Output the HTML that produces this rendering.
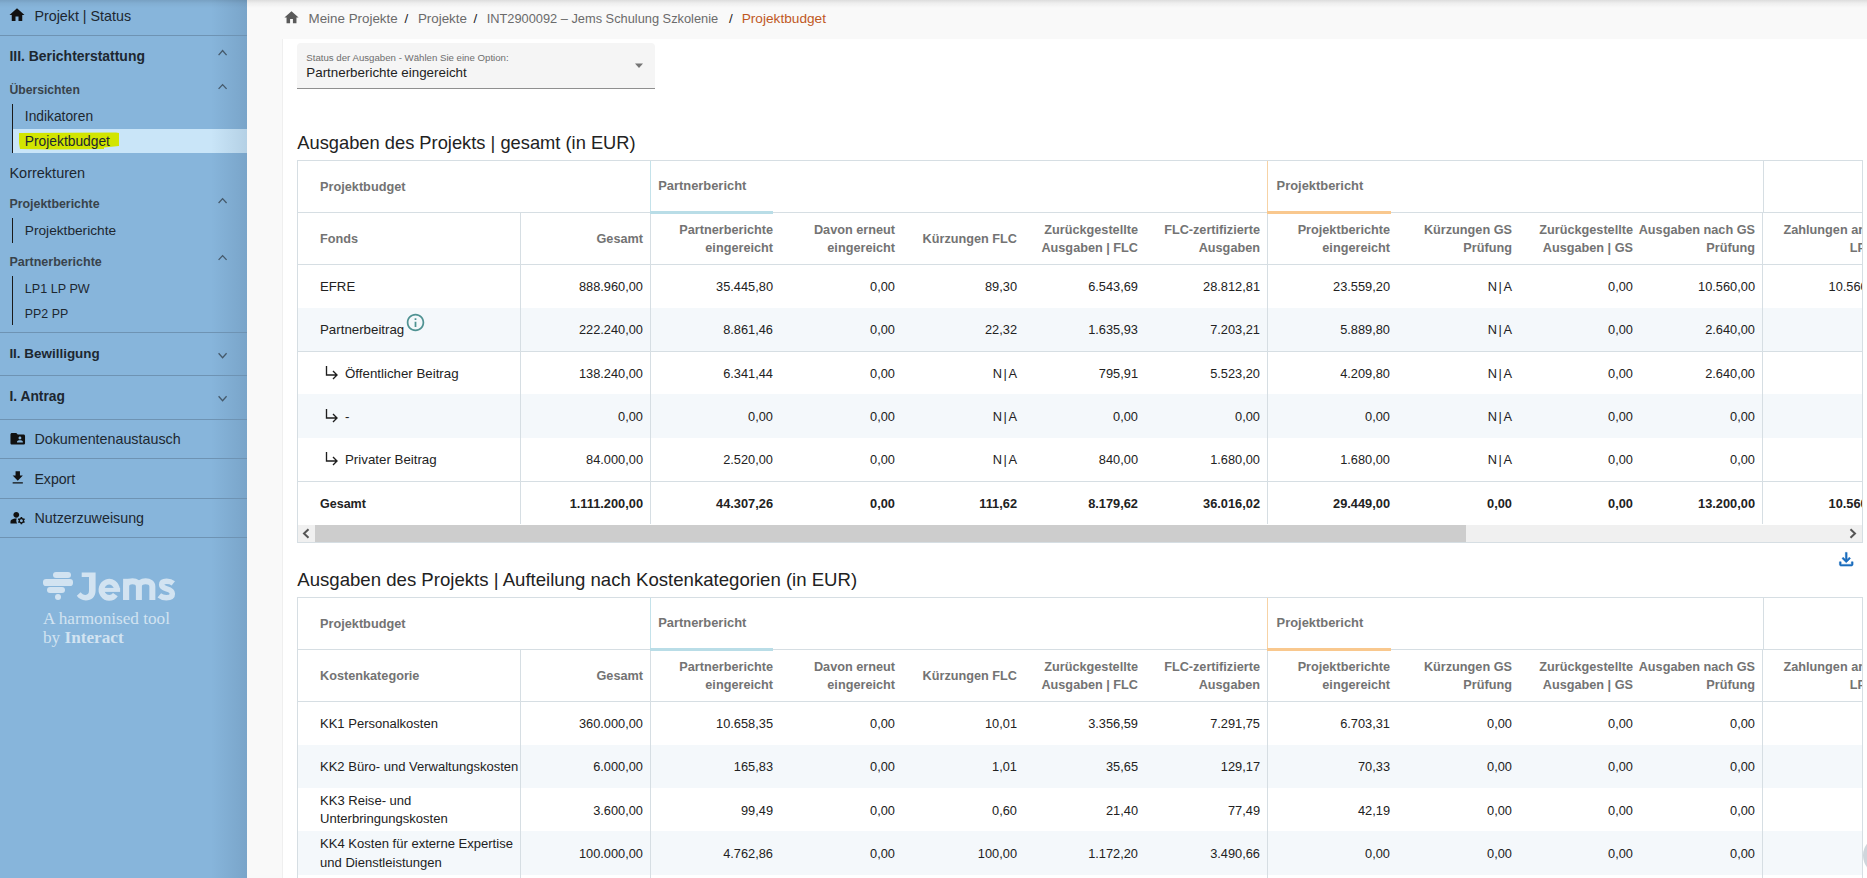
<!DOCTYPE html>
<html><head><meta charset="utf-8"><title>Projektbudget</title>
<style>
html,body{margin:0;padding:0;width:1867px;height:878px;overflow:hidden;background:#f9f9f9}
body{position:relative;font-family:"Liberation Sans", sans-serif}
.t{position:absolute;white-space:nowrap}
.r{position:absolute;box-sizing:border-box}
</style></head><body>
<div class="r" style="left:0px;top:0px;width:247px;height:878px;background:#87b5db;"></div>
<div class="r" style="left:211px;top:0px;width:36px;height:878px;background:linear-gradient(to right, rgba(60,90,120,0) 0%, rgba(60,90,120,0.18) 100%);"></div>
<svg class="r" style="left:8px;top:6px;width:18px;height:18px" viewBox="0 0 24 24"><path fill="#111" d="M10 20v-6h4v6h5v-8h3L12 3 2 12h3v8z"/></svg>
<div class="t" style="left:34.40px;top:7.50px;font-size:14.3px;line-height:17px;color:#1d2730;font-weight:400;">Projekt | Status</div>
<div class="r" style="left:0px;top:35px;width:247px;height:1px;background:#6e93b3;"></div>
<div class="t" style="left:9.40px;top:47.50px;font-size:13.95px;line-height:17px;color:#1d2730;font-weight:700;">III. Berichterstattung</div>
<svg class="r" style="left:217.6px;top:49.5px;width:9.2px;height:5.5px;overflow:visible" viewBox="0 0 9.2 5.50"><path fill="none" stroke="#45596a" stroke-width="1.3" d="M0.6 5.20 L4.60 0.6 L8.60 5.20"/></svg>
<div class="t" style="left:9.40px;top:82.50px;font-size:12.2px;line-height:15px;color:#39434b;font-weight:700;">Übersichten</div>
<svg class="r" style="left:217.6px;top:84px;width:9.2px;height:5.200000000000003px;overflow:visible" viewBox="0 0 9.2 5.20"><path fill="none" stroke="#45596a" stroke-width="1.3" d="M0.6 4.90 L4.60 0.6 L8.60 4.90"/></svg>
<div class="r" style="left:12px;top:104px;width:1px;height:49px;background:#1a1a1a;"></div>
<div class="t" style="left:24.80px;top:108.00px;font-size:13.8px;line-height:17px;color:#1d2730;font-weight:400;">Indikatoren</div>
<div class="r" style="left:13px;top:129px;width:234px;height:24px;background:#c9e5f8;"></div>
<div class="r" style="left:211px;top:129px;width:36px;height:24px;background:linear-gradient(to right, rgba(60,90,120,0) 0%, rgba(60,90,120,0.15) 100%);"></div>
<svg class="r" style="left:16px;top:129px;width:106px;height:23px" viewBox="0 0 106 23"><path fill="#d2e500" d="M3 4 L100 3.5 L103 4 L103 17 L88 18.5 L88 20 L36 20.5 L4 20 L3 14 Z"/></svg>
<div class="t" style="left:24.80px;top:133.00px;font-size:13.8px;line-height:17px;color:#1d2730;font-weight:400;">Projektbudget</div>
<div class="t" style="left:9.40px;top:164.50px;font-size:14.5px;line-height:17px;color:#1d2730;font-weight:400;">Korrekturen</div>
<div class="t" style="left:9.40px;top:196.50px;font-size:12.4px;line-height:15px;color:#39434b;font-weight:700;">Projektberichte</div>
<svg class="r" style="left:217.6px;top:197.9px;width:9.2px;height:5.299999999999983px;overflow:visible" viewBox="0 0 9.2 5.30"><path fill="none" stroke="#45596a" stroke-width="1.3" d="M0.6 5.00 L4.60 0.6 L8.60 5.00"/></svg>
<div class="r" style="left:12px;top:218px;width:1px;height:25px;background:#1a1a1a;"></div>
<div class="t" style="left:24.80px;top:222.50px;font-size:13.7px;line-height:16px;color:#1d2730;font-weight:400;">Projektberichte</div>
<div class="t" style="left:9.40px;top:254.50px;font-size:12.5px;line-height:15px;color:#39434b;font-weight:700;">Partnerberichte</div>
<svg class="r" style="left:217.6px;top:254.8px;width:9.2px;height:5.199999999999989px;overflow:visible" viewBox="0 0 9.2 5.20"><path fill="none" stroke="#45596a" stroke-width="1.3" d="M0.6 4.90 L4.60 0.6 L8.60 4.90"/></svg>
<div class="r" style="left:12px;top:276px;width:1px;height:49px;background:#1a1a1a;"></div>
<div class="t" style="left:24.80px;top:281.50px;font-size:12.6px;line-height:15px;color:#1d2730;font-weight:400;">LP1 LP PW</div>
<div class="t" style="left:24.80px;top:306.50px;font-size:12.4px;line-height:15px;color:#1d2730;font-weight:400;">PP2 PP</div>
<div class="r" style="left:0px;top:332px;width:247px;height:1px;background:#6e93b3;"></div>
<div class="t" style="left:9.40px;top:345.50px;font-size:13.45px;line-height:16px;color:#1d2730;font-weight:700;">II. Bewilligung</div>
<svg class="r" style="left:217.6px;top:353.3px;width:9.2px;height:5.300000000000011px;overflow:visible" viewBox="0 0 9.2 5.30"><path fill="none" stroke="#45596a" stroke-width="1.3" d="M0.6 0.3 L4.60 4.70 L8.60 0.3"/></svg>
<div class="r" style="left:0px;top:375px;width:247px;height:1px;background:#6e93b3;"></div>
<div class="t" style="left:9.40px;top:387.50px;font-size:13.84px;line-height:17px;color:#1d2730;font-weight:700;">I. Antrag</div>
<svg class="r" style="left:217.6px;top:396.1px;width:9.2px;height:5.2999999999999545px;overflow:visible" viewBox="0 0 9.2 5.30"><path fill="none" stroke="#45596a" stroke-width="1.3" d="M0.6 0.3 L4.60 4.70 L8.60 0.3"/></svg>
<div class="r" style="left:0px;top:419px;width:247px;height:1px;background:#6e93b3;"></div>
<svg class="r" style="left:8.5px;top:430px;width:17.5px;height:17.5px" viewBox="0 0 24 24"><path fill="#111" d="M20 6h-8l-2-2H4c-1.1 0-1.99.9-1.99 2L2 18c0 1.1.9 2 2 2h16c1.1 0 2-.9 2-2V8c0-1.1-.9-2-2-2zm-5 3c1.1 0 2 .9 2 2s-.9 2-2 2-2-.9-2-2 .9-2 2-2zm4 8h-8v-1c0-1.33 2.67-2 4-2s4 .67 4 2v1z"/></svg>
<div class="t" style="left:34.40px;top:430.50px;font-size:14.3px;line-height:17px;color:#1d2730;font-weight:400;">Dokumentenaustausch</div>
<div class="r" style="left:0px;top:458px;width:247px;height:1px;background:#6e93b3;"></div>
<svg class="r" style="left:8.5px;top:469px;width:17.5px;height:17.5px" viewBox="0 0 24 24"><path fill="#111" d="M19 9h-4V3H9v6H5l7 7 7-7zM5 18v2h14v-2H5z"/></svg>
<div class="t" style="left:34.40px;top:470.50px;font-size:14.15px;line-height:17px;color:#1d2730;font-weight:400;">Export</div>
<div class="r" style="left:0px;top:498px;width:247px;height:1px;background:#6e93b3;"></div>
<svg class="r" style="left:8.5px;top:509px;width:17.5px;height:17.5px" viewBox="0 0 24 24"><path fill="#111" d="M10.67 13.02c-.22-.01-.44-.02-.67-.02-2.42 0-4.68.67-6.61 1.82-.88.52-1.39 1.5-1.39 2.53V20h9.26c-.79-1.13-1.26-2.51-1.26-4 0-1.07.25-2.07.67-2.98zM10 12c2.21 0 4-1.79 4-4s-1.79-4-4-4-4 1.79-4 4 1.79 4 4 4zm10.75 4c0-.22-.03-.42-.06-.63l1.14-1.01-1-1.73-1.45.49c-.32-.27-.68-.48-1.08-.63L18 11h-2l-.3 1.49c-.4.15-.76.36-1.08.63l-1.45-.49-1 1.73 1.14 1.01c-.03.21-.06.41-.06.63s.03.42.06.63l-1.14 1.01 1 1.73 1.45-.49c.32.27.68.48 1.08.63L16 21h2l.3-1.49c.4-.15.76-.36 1.08-.63l1.45.49 1-1.73-1.14-1.01c.03-.21.06-.41.06-.63zM17 18c-1.1 0-2-.9-2-2s.9-2 2-2 2 .9 2 2-.9 2-2 2z"/></svg>
<div class="t" style="left:34.40px;top:509.50px;font-size:14.3px;line-height:17px;color:#1d2730;font-weight:400;">Nutzerzuweisung</div>
<div class="r" style="left:0px;top:537px;width:247px;height:1px;background:#6e93b3;"></div>
<div class="r" style="left:52.8px;top:572px;width:18.2px;height:5.7px;background:#d2e3f1;border-radius:3px"></div>
<div class="r" style="left:42.5px;top:579.4px;width:30.8px;height:6.2px;background:#d2e3f1;border-radius:3.1px"></div>
<div class="r" style="left:46.9px;top:587px;width:18.6px;height:6px;background:#d2e3f1;border-radius:3px"></div>
<div class="r" style="left:54.8px;top:594px;width:6.5px;height:6.4px;background:#d2e3f1;border-radius:50%"></div>
<svg class="r" style="left:74px;top:568px;width:106px;height:36px" viewBox="0 0 106 36"><path fill="#d2e3f1" d="M7.7 4.5 L21.6 4.5 L21.6 22.5 C21.6 29 17.5 32.4 11.8 32.4 C7.8 32.4 4.8 30.6 2.8 27.8 L6.6 24.3 C7.8 25.9 9.5 26.9 11.5 26.9 C13.8 26.9 15 25.4 15 22.5 L15 9.1 L7.7 9.1 Z"/><path fill="none" stroke="#d2e3f1" stroke-width="5.8" d="M42.9 21.45 A7.7 8.1 0 1 0 41.4 26.6"/><rect fill="#d2e3f1" x="28" y="19.9" width="18.1" height="4"/><rect fill="#d2e3f1" x="49.1" y="10.8" width="6" height="21.2"/><path fill="none" stroke="#d2e3f1" stroke-width="6" d="M52.1 32 V18.5 C52.1 15.2 54.6 13.3 58.5 13.3 C62.4 13.3 64.9 15.2 64.9 18.5 V32 M64.9 18.5 C64.9 15.2 67.6 13.3 71.6 13.3 C75.6 13.3 78.35 15.2 78.35 18.5 V32"/><path fill="none" stroke="#d2e3f1" stroke-width="5.5" d="M99.3 15.3 C97.5 13.9 95 13.25 92.6 13.25 C89.3 13.25 87.65 14.7 87.65 16.8 C87.65 22.3 98.35 19.2 98.35 25.7 C98.35 28.3 95.9 29.65 92.3 29.65 C89.5 29.65 87 28.7 85.3 27.3"/></svg>
<div class="t" style="left:43.00px;top:607.50px;font-size:17.2px;line-height:21px;color:#d2e3f1;font-weight:400;font-family:'Liberation Serif', serif;">A harmonised tool</div>
<div class="t" style="left:43.00px;top:626.50px;font-size:17.2px;line-height:21px;color:#d2e3f1;font-weight:400;font-family:'Liberation Serif', serif;">by <b>Interact</b></div>
<div class="r" style="left:247px;top:0px;width:1620px;height:878px;background:#f9f9f9;"></div>
<div class="r" style="left:282px;top:39px;width:1585px;height:839px;background:#fff;border-left:1px solid #efefef"></div>
<div class="r" style="left:0px;top:0px;width:1867px;height:8px;background:linear-gradient(to bottom, rgba(0,0,0,0.115) 0%, rgba(0,0,0,0.045) 40%, rgba(0,0,0,0) 100%);"></div>
<svg class="r" style="left:282.5px;top:9px;width:17px;height:17px" viewBox="0 0 24 24"><path fill="#5a5a5a" d="M10 20v-6h4v6h5v-8h3L12 3 2 12h3v8z"/></svg>
<div class="t" style="left:308.50px;top:10.50px;font-size:13.39px;line-height:16px;color:#6b6b6b;font-weight:400;">Meine Projekte</div>
<div class="t" style="left:404.50px;top:10.50px;font-size:13.4px;line-height:16px;color:#222;font-weight:400;">/</div>
<div class="t" style="left:417.90px;top:10.50px;font-size:13.38px;line-height:16px;color:#6b6b6b;font-weight:400;">Projekte</div>
<div class="t" style="left:473.50px;top:10.50px;font-size:13.4px;line-height:16px;color:#222;font-weight:400;">/</div>
<div class="t" style="left:486.70px;top:11.00px;font-size:12.82px;line-height:15px;color:#6b6b6b;font-weight:400;">INT2900092 – Jems Schulung Szkolenie</div>
<div class="t" style="left:729.00px;top:10.50px;font-size:13.4px;line-height:16px;color:#222;font-weight:400;">/</div>
<div class="t" style="left:741.70px;top:10.50px;font-size:13.66px;line-height:16px;color:#c0581e;font-weight:400;">Projektbudget</div>
<div class="r" style="left:297px;top:43px;width:358px;height:45px;background:#f5f5f5;border-radius:4px 4px 0 0"></div>
<div class="r" style="left:297px;top:88px;width:358px;height:1px;background:#8f8f8f;"></div>
<div class="t" style="left:306.30px;top:51.50px;font-size:9.66px;line-height:12px;color:#6e6e6e;font-weight:400;">Status der Ausgaben - Wählen Sie eine Option:</div>
<div class="t" style="left:306.30px;top:64.50px;font-size:13.36px;line-height:16px;color:#222;font-weight:400;">Partnerberichte eingereicht</div>
<svg class="r" style="left:634px;top:62px;width:10px;height:7px" viewBox="0 0 10 7"><path fill="#757575" d="M1 1.5h8L5 6z"/></svg>
<div class="t" style="left:297.30px;top:131.50px;font-size:18.31px;line-height:22px;color:#222;font-weight:400;">Ausgaben des Projekts | gesamt (in EUR)</div>
<div class="r" style="left:0;top:0;width:1862px;height:878px;overflow:hidden">
<div class="r" style="left:297px;top:160px;width:1566px;height:1px;background:#d6dee3;"></div>
<div class="r" style="left:297px;top:212px;width:1566px;height:1px;background:#d6dee3;"></div>
<div class="r" style="left:297px;top:264px;width:1566px;height:1px;background:#d6dee3;"></div>
<div class="r" style="left:298px;top:308px;width:1565px;height:43px;background:#f4f8fb;"></div>
<div class="r" style="left:297px;top:351px;width:1566px;height:1px;background:#d6dee3;"></div>
<div class="r" style="left:298px;top:394px;width:1565px;height:44px;background:#f4f8fb;"></div>
<div class="r" style="left:297px;top:481px;width:1566px;height:1px;background:#d6dee3;"></div>
<div class="r" style="left:297px;top:160px;width:1px;height:382.48px;background:#d6dee3;"></div>
<div class="r" style="left:520px;top:213px;width:1px;height:311.48px;background:#d6dee3;"></div>
<div class="r" style="left:650px;top:161px;width:1px;height:51px;background:#c4e2ea;"></div>
<div class="r" style="left:650px;top:213px;width:1px;height:311.48px;background:#d6dee3;"></div>
<div class="r" style="left:1267px;top:161px;width:1px;height:51px;background:#f7d3a6;"></div>
<div class="r" style="left:1267px;top:213px;width:1px;height:311.48px;background:#d6dee3;"></div>
<div class="r" style="left:1763px;top:161px;width:1px;height:51px;background:#d6dee3;"></div>
<div class="r" style="left:1762px;top:213px;width:1px;height:311.48px;background:#d6dee3;"></div>
<div class="r" style="left:650px;top:211px;width:123px;height:2.5px;background:#b9dde7;"></div>
<div class="r" style="left:1267px;top:211px;width:124px;height:2.5px;background:#f9c88e;"></div>
<div class="t" style="left:320.00px;top:179.00px;font-size:12.72px;line-height:15px;color:#737373;font-weight:700;">Projektbudget</div>
<div class="t" style="left:658.20px;top:178.00px;font-size:12.9px;line-height:15px;color:#737373;font-weight:700;">Partnerbericht</div>
<div class="t" style="left:1276.60px;top:178.00px;font-size:12.9px;line-height:15px;color:#737373;font-weight:700;">Projektbericht</div>
<div class="t" style="left:320.00px;top:231.50px;font-size:12.7px;line-height:15px;color:#737373;font-weight:700;">Fonds</div>
<div class="t" style="right:1219.00px;text-align:right;top:231.50px;font-size:12.7px;line-height:15px;color:#737373;font-weight:700;">Gesamt</div>
<div class="t" style="right:1089.00px;text-align:right;top:222.50px;font-size:12.7px;line-height:15px;color:#737373;font-weight:700;">Partnerberichte</div>
<div class="t" style="right:1089.00px;text-align:right;top:240.50px;font-size:12.7px;line-height:15px;color:#737373;font-weight:700;">eingereicht</div>
<div class="t" style="right:967.00px;text-align:right;top:222.50px;font-size:12.7px;line-height:15px;color:#737373;font-weight:700;">Davon erneut</div>
<div class="t" style="right:967.00px;text-align:right;top:240.50px;font-size:12.7px;line-height:15px;color:#737373;font-weight:700;">eingereicht</div>
<div class="t" style="right:724.00px;text-align:right;top:222.50px;font-size:12.7px;line-height:15px;color:#737373;font-weight:700;">Zurückgestellte</div>
<div class="t" style="right:724.00px;text-align:right;top:240.50px;font-size:12.7px;line-height:15px;color:#737373;font-weight:700;">Ausgaben | FLC</div>
<div class="t" style="right:602.00px;text-align:right;top:222.50px;font-size:12.7px;line-height:15px;color:#737373;font-weight:700;">FLC-zertifizierte</div>
<div class="t" style="right:602.00px;text-align:right;top:240.50px;font-size:12.7px;line-height:15px;color:#737373;font-weight:700;">Ausgaben</div>
<div class="t" style="right:472.00px;text-align:right;top:222.50px;font-size:12.7px;line-height:15px;color:#737373;font-weight:700;">Projektberichte</div>
<div class="t" style="right:472.00px;text-align:right;top:240.50px;font-size:12.7px;line-height:15px;color:#737373;font-weight:700;">eingereicht</div>
<div class="t" style="right:350.00px;text-align:right;top:222.50px;font-size:12.7px;line-height:15px;color:#737373;font-weight:700;">Kürzungen GS</div>
<div class="t" style="right:350.00px;text-align:right;top:240.50px;font-size:12.7px;line-height:15px;color:#737373;font-weight:700;">Prüfung</div>
<div class="t" style="right:229.00px;text-align:right;top:222.50px;font-size:12.7px;line-height:15px;color:#737373;font-weight:700;">Zurückgestellte</div>
<div class="t" style="right:229.00px;text-align:right;top:240.50px;font-size:12.7px;line-height:15px;color:#737373;font-weight:700;">Ausgaben | GS</div>
<div class="t" style="right:107.00px;text-align:right;top:222.50px;font-size:12.7px;line-height:15px;color:#737373;font-weight:700;">Ausgaben nach GS</div>
<div class="t" style="right:107.00px;text-align:right;top:240.50px;font-size:12.7px;line-height:15px;color:#737373;font-weight:700;">Prüfung</div>
<div class="t" style="right:-4.00px;text-align:right;top:222.50px;font-size:12.7px;line-height:15px;color:#737373;font-weight:700;">Zahlungen an</div>
<div class="t" style="right:-4.00px;text-align:right;top:240.50px;font-size:12.7px;line-height:15px;color:#737373;font-weight:700;">LP</div>
<div class="t" style="right:845.00px;text-align:right;top:231.50px;font-size:12.7px;line-height:15px;color:#737373;font-weight:700;">Kürzungen FLC</div>
<div class="t" style="left:320.00px;top:278.50px;font-size:13.2px;line-height:16px;color:#222;font-weight:400;">EFRE</div>
<div class="t" style="right:1219.00px;text-align:right;top:279.00px;font-size:12.8px;line-height:15px;color:#222;font-weight:400;">888.960,00</div>
<div class="t" style="right:1089.00px;text-align:right;top:279.00px;font-size:12.8px;line-height:15px;color:#222;font-weight:400;">35.445,80</div>
<div class="t" style="right:967.00px;text-align:right;top:279.00px;font-size:12.8px;line-height:15px;color:#222;font-weight:400;">0,00</div>
<div class="t" style="right:845.00px;text-align:right;top:279.00px;font-size:12.8px;line-height:15px;color:#222;font-weight:400;">89,30</div>
<div class="t" style="right:724.00px;text-align:right;top:279.00px;font-size:12.8px;line-height:15px;color:#222;font-weight:400;">6.543,69</div>
<div class="t" style="right:602.00px;text-align:right;top:279.00px;font-size:12.8px;line-height:15px;color:#222;font-weight:400;">28.812,81</div>
<div class="t" style="right:472.00px;text-align:right;top:279.00px;font-size:12.8px;line-height:15px;color:#222;font-weight:400;">23.559,20</div>
<div class="t" style="right:350.00px;text-align:right;top:279.00px;font-size:12.8px;line-height:15px;color:#222;font-weight:400;">N<span style="margin:0 1.6px">|</span>A</div>
<div class="t" style="right:229.00px;text-align:right;top:279.00px;font-size:12.8px;line-height:15px;color:#222;font-weight:400;">0,00</div>
<div class="t" style="right:107.00px;text-align:right;top:279.00px;font-size:12.8px;line-height:15px;color:#222;font-weight:400;">10.560,00</div>
<div class="t" style="right:-23.50px;text-align:right;top:279.00px;font-size:12.8px;line-height:15px;color:#222;font-weight:400;">10.560,00</div>
<div class="t" style="left:320.00px;top:321.50px;font-size:13.3px;line-height:16px;color:#222;font-weight:400;">Partnerbeitrag</div>
<svg class="r" style="left:404.5px;top:312.00px;width:21px;height:21px" viewBox="0 0 24 24"><path fill="#4f9292" d="M11 7h2v2h-2zm0 4h2v6h-2zm1-9C6.48 2 2 6.48 2 12s4.48 10 10 10 10-4.48 10-10S17.52 2 12 2zm0 18c-4.41 0-8-3.59-8-8s3.59-8 8-8 8 3.59 8 8-3.59 8-8 8z"/></svg>
<div class="t" style="right:1219.00px;text-align:right;top:322.00px;font-size:12.8px;line-height:15px;color:#222;font-weight:400;">222.240,00</div>
<div class="t" style="right:1089.00px;text-align:right;top:322.00px;font-size:12.8px;line-height:15px;color:#222;font-weight:400;">8.861,46</div>
<div class="t" style="right:967.00px;text-align:right;top:322.00px;font-size:12.8px;line-height:15px;color:#222;font-weight:400;">0,00</div>
<div class="t" style="right:845.00px;text-align:right;top:322.00px;font-size:12.8px;line-height:15px;color:#222;font-weight:400;">22,32</div>
<div class="t" style="right:724.00px;text-align:right;top:322.00px;font-size:12.8px;line-height:15px;color:#222;font-weight:400;">1.635,93</div>
<div class="t" style="right:602.00px;text-align:right;top:322.00px;font-size:12.8px;line-height:15px;color:#222;font-weight:400;">7.203,21</div>
<div class="t" style="right:472.00px;text-align:right;top:322.00px;font-size:12.8px;line-height:15px;color:#222;font-weight:400;">5.889,80</div>
<div class="t" style="right:350.00px;text-align:right;top:322.00px;font-size:12.8px;line-height:15px;color:#222;font-weight:400;">N<span style="margin:0 1.6px">|</span>A</div>
<div class="t" style="right:229.00px;text-align:right;top:322.00px;font-size:12.8px;line-height:15px;color:#222;font-weight:400;">0,00</div>
<div class="t" style="right:107.00px;text-align:right;top:322.00px;font-size:12.8px;line-height:15px;color:#222;font-weight:400;">2.640,00</div>
<svg class="r" style="left:324px;top:364px;width:16px;height:16px" viewBox="0 0 16 16"><path fill="none" stroke="#1e1e1e" stroke-width="1.35" d="M2.5 2v9h10.5 M9 7l4 4-4 4"/></svg>
<div class="t" style="left:345.00px;top:365.50px;font-size:13.3px;line-height:16px;color:#222;font-weight:400;">Öffentlicher Beitrag</div>
<div class="t" style="right:1219.00px;text-align:right;top:366.00px;font-size:12.8px;line-height:15px;color:#222;font-weight:400;">138.240,00</div>
<div class="t" style="right:1089.00px;text-align:right;top:366.00px;font-size:12.8px;line-height:15px;color:#222;font-weight:400;">6.341,44</div>
<div class="t" style="right:967.00px;text-align:right;top:366.00px;font-size:12.8px;line-height:15px;color:#222;font-weight:400;">0,00</div>
<div class="t" style="right:845.00px;text-align:right;top:366.00px;font-size:12.8px;line-height:15px;color:#222;font-weight:400;">N<span style="margin:0 1.6px">|</span>A</div>
<div class="t" style="right:724.00px;text-align:right;top:366.00px;font-size:12.8px;line-height:15px;color:#222;font-weight:400;">795,91</div>
<div class="t" style="right:602.00px;text-align:right;top:366.00px;font-size:12.8px;line-height:15px;color:#222;font-weight:400;">5.523,20</div>
<div class="t" style="right:472.00px;text-align:right;top:366.00px;font-size:12.8px;line-height:15px;color:#222;font-weight:400;">4.209,80</div>
<div class="t" style="right:350.00px;text-align:right;top:366.00px;font-size:12.8px;line-height:15px;color:#222;font-weight:400;">N<span style="margin:0 1.6px">|</span>A</div>
<div class="t" style="right:229.00px;text-align:right;top:366.00px;font-size:12.8px;line-height:15px;color:#222;font-weight:400;">0,00</div>
<div class="t" style="right:107.00px;text-align:right;top:366.00px;font-size:12.8px;line-height:15px;color:#222;font-weight:400;">2.640,00</div>
<svg class="r" style="left:324px;top:407px;width:16px;height:16px" viewBox="0 0 16 16"><path fill="none" stroke="#1e1e1e" stroke-width="1.35" d="M2.5 2v9h10.5 M9 7l4 4-4 4"/></svg>
<div class="t" style="left:345.00px;top:408.50px;font-size:13.3px;line-height:16px;color:#222;font-weight:400;">-</div>
<div class="t" style="right:1219.00px;text-align:right;top:409.00px;font-size:12.8px;line-height:15px;color:#222;font-weight:400;">0,00</div>
<div class="t" style="right:1089.00px;text-align:right;top:409.00px;font-size:12.8px;line-height:15px;color:#222;font-weight:400;">0,00</div>
<div class="t" style="right:967.00px;text-align:right;top:409.00px;font-size:12.8px;line-height:15px;color:#222;font-weight:400;">0,00</div>
<div class="t" style="right:845.00px;text-align:right;top:409.00px;font-size:12.8px;line-height:15px;color:#222;font-weight:400;">N<span style="margin:0 1.6px">|</span>A</div>
<div class="t" style="right:724.00px;text-align:right;top:409.00px;font-size:12.8px;line-height:15px;color:#222;font-weight:400;">0,00</div>
<div class="t" style="right:602.00px;text-align:right;top:409.00px;font-size:12.8px;line-height:15px;color:#222;font-weight:400;">0,00</div>
<div class="t" style="right:472.00px;text-align:right;top:409.00px;font-size:12.8px;line-height:15px;color:#222;font-weight:400;">0,00</div>
<div class="t" style="right:350.00px;text-align:right;top:409.00px;font-size:12.8px;line-height:15px;color:#222;font-weight:400;">N<span style="margin:0 1.6px">|</span>A</div>
<div class="t" style="right:229.00px;text-align:right;top:409.00px;font-size:12.8px;line-height:15px;color:#222;font-weight:400;">0,00</div>
<div class="t" style="right:107.00px;text-align:right;top:409.00px;font-size:12.8px;line-height:15px;color:#222;font-weight:400;">0,00</div>
<svg class="r" style="left:324px;top:450px;width:16px;height:16px" viewBox="0 0 16 16"><path fill="none" stroke="#1e1e1e" stroke-width="1.35" d="M2.5 2v9h10.5 M9 7l4 4-4 4"/></svg>
<div class="t" style="left:345.00px;top:451.50px;font-size:13.3px;line-height:16px;color:#222;font-weight:400;">Privater Beitrag</div>
<div class="t" style="right:1219.00px;text-align:right;top:452.00px;font-size:12.8px;line-height:15px;color:#222;font-weight:400;">84.000,00</div>
<div class="t" style="right:1089.00px;text-align:right;top:452.00px;font-size:12.8px;line-height:15px;color:#222;font-weight:400;">2.520,00</div>
<div class="t" style="right:967.00px;text-align:right;top:452.00px;font-size:12.8px;line-height:15px;color:#222;font-weight:400;">0,00</div>
<div class="t" style="right:845.00px;text-align:right;top:452.00px;font-size:12.8px;line-height:15px;color:#222;font-weight:400;">N<span style="margin:0 1.6px">|</span>A</div>
<div class="t" style="right:724.00px;text-align:right;top:452.00px;font-size:12.8px;line-height:15px;color:#222;font-weight:400;">840,00</div>
<div class="t" style="right:602.00px;text-align:right;top:452.00px;font-size:12.8px;line-height:15px;color:#222;font-weight:400;">1.680,00</div>
<div class="t" style="right:472.00px;text-align:right;top:452.00px;font-size:12.8px;line-height:15px;color:#222;font-weight:400;">1.680,00</div>
<div class="t" style="right:350.00px;text-align:right;top:452.00px;font-size:12.8px;line-height:15px;color:#222;font-weight:400;">N<span style="margin:0 1.6px">|</span>A</div>
<div class="t" style="right:229.00px;text-align:right;top:452.00px;font-size:12.8px;line-height:15px;color:#222;font-weight:400;">0,00</div>
<div class="t" style="right:107.00px;text-align:right;top:452.00px;font-size:12.8px;line-height:15px;color:#222;font-weight:400;">0,00</div>
<div class="t" style="left:320.00px;top:496.50px;font-size:12.5px;line-height:15px;color:#222;font-weight:700;">Gesamt</div>
<div class="t" style="right:1219.00px;text-align:right;top:496.00px;font-size:12.8px;line-height:15px;color:#222;font-weight:700;">1.111.200,00</div>
<div class="t" style="right:1089.00px;text-align:right;top:496.00px;font-size:12.8px;line-height:15px;color:#222;font-weight:700;">44.307,26</div>
<div class="t" style="right:967.00px;text-align:right;top:496.00px;font-size:12.8px;line-height:15px;color:#222;font-weight:700;">0,00</div>
<div class="t" style="right:845.00px;text-align:right;top:496.00px;font-size:12.8px;line-height:15px;color:#222;font-weight:700;">111,62</div>
<div class="t" style="right:724.00px;text-align:right;top:496.00px;font-size:12.8px;line-height:15px;color:#222;font-weight:700;">8.179,62</div>
<div class="t" style="right:602.00px;text-align:right;top:496.00px;font-size:12.8px;line-height:15px;color:#222;font-weight:700;">36.016,02</div>
<div class="t" style="right:472.00px;text-align:right;top:496.00px;font-size:12.8px;line-height:15px;color:#222;font-weight:700;">29.449,00</div>
<div class="t" style="right:350.00px;text-align:right;top:496.00px;font-size:12.8px;line-height:15px;color:#222;font-weight:700;">0,00</div>
<div class="t" style="right:229.00px;text-align:right;top:496.00px;font-size:12.8px;line-height:15px;color:#222;font-weight:700;">0,00</div>
<div class="t" style="right:107.00px;text-align:right;top:496.00px;font-size:12.8px;line-height:15px;color:#222;font-weight:700;">13.200,00</div>
<div class="t" style="right:-23.50px;text-align:right;top:496.00px;font-size:12.8px;line-height:15px;color:#222;font-weight:700;">10.560,00</div>
</div>
<div class="r" style="left:1862px;top:160px;width:1px;height:382.48px;background:#d6dee3;"></div>
<div class="r" style="left:298px;top:525px;width:1564px;height:17px;background:#f0f0f0;"></div>
<div class="r" style="left:315px;top:525px;width:1151px;height:17px;background:#cdcdcd;"></div>
<div class="r" style="left:297px;top:542px;width:1566px;height:1px;background:#d6dee3;"></div>
<svg class="r" style="left:301px;top:528px;width:10px;height:11px" viewBox="0 0 10 11"><path fill="none" stroke="#555" stroke-width="2" d="M7.5 1.2 L3 5.5 L7.5 9.8"/></svg>
<svg class="r" style="left:1848px;top:528px;width:10px;height:11px" viewBox="0 0 10 11"><path fill="none" stroke="#555" stroke-width="2" d="M2.5 1.2 L7 5.5 L2.5 9.8"/></svg>
<svg class="r" style="left:1835.5px;top:548.5px;width:20.5px;height:20.5px" viewBox="0 0 24 24"><path fill="#1a6cbd" stroke="#1a6cbd" stroke-width="0.6" d="M12 16l-5-5 1.4-1.45 2.6 2.6V4h2v8.15l2.6-2.6L17 11zm-6 4q-.825 0-1.412-.587Q4 18.825 4 18v-3h2v3h12v-3h2v3q0 .825-.587 1.413Q18.825 20 18 20z"/></svg>
<div class="t" style="left:297.30px;top:568.50px;font-size:18.6px;line-height:22px;color:#222;font-weight:400;">Ausgaben des Projekts | Aufteilung nach Kostenkategorien (in EUR)</div>
<div class="r" style="left:0;top:0;width:1862px;height:878px;overflow:hidden">
<div class="r" style="left:297px;top:597px;width:1566px;height:1px;background:#d6dee3;"></div>
<div class="r" style="left:297px;top:649px;width:1566px;height:1px;background:#d6dee3;"></div>
<div class="r" style="left:297px;top:701px;width:1566px;height:1px;background:#d6dee3;"></div>
<div class="r" style="left:298px;top:745px;width:1565px;height:43px;background:#f4f8fb;"></div>
<div class="r" style="left:298px;top:831px;width:1565px;height:44px;background:#f4f8fb;"></div>
<div class="r" style="left:297px;top:597px;width:1px;height:299px;background:#d6dee3;"></div>
<div class="r" style="left:520px;top:650px;width:1px;height:228px;background:#d6dee3;"></div>
<div class="r" style="left:650px;top:598px;width:1px;height:51px;background:#c4e2ea;"></div>
<div class="r" style="left:650px;top:650px;width:1px;height:228px;background:#d6dee3;"></div>
<div class="r" style="left:1267px;top:598px;width:1px;height:51px;background:#f7d3a6;"></div>
<div class="r" style="left:1267px;top:650px;width:1px;height:228px;background:#d6dee3;"></div>
<div class="r" style="left:1763px;top:598px;width:1px;height:51px;background:#d6dee3;"></div>
<div class="r" style="left:1762px;top:650px;width:1px;height:228px;background:#d6dee3;"></div>
<div class="r" style="left:650px;top:648px;width:123px;height:2.5px;background:#b9dde7;"></div>
<div class="r" style="left:1267px;top:648px;width:124px;height:2.5px;background:#f9c88e;"></div>
<div class="t" style="left:320.00px;top:616.00px;font-size:12.72px;line-height:15px;color:#737373;font-weight:700;">Projektbudget</div>
<div class="t" style="left:658.20px;top:615.00px;font-size:12.9px;line-height:15px;color:#737373;font-weight:700;">Partnerbericht</div>
<div class="t" style="left:1276.60px;top:615.00px;font-size:12.9px;line-height:15px;color:#737373;font-weight:700;">Projektbericht</div>
<div class="t" style="left:320.00px;top:668.50px;font-size:12.7px;line-height:15px;color:#737373;font-weight:700;">Kostenkategorie</div>
<div class="t" style="right:1219.00px;text-align:right;top:668.50px;font-size:12.7px;line-height:15px;color:#737373;font-weight:700;">Gesamt</div>
<div class="t" style="right:1089.00px;text-align:right;top:659.50px;font-size:12.7px;line-height:15px;color:#737373;font-weight:700;">Partnerberichte</div>
<div class="t" style="right:1089.00px;text-align:right;top:677.50px;font-size:12.7px;line-height:15px;color:#737373;font-weight:700;">eingereicht</div>
<div class="t" style="right:967.00px;text-align:right;top:659.50px;font-size:12.7px;line-height:15px;color:#737373;font-weight:700;">Davon erneut</div>
<div class="t" style="right:967.00px;text-align:right;top:677.50px;font-size:12.7px;line-height:15px;color:#737373;font-weight:700;">eingereicht</div>
<div class="t" style="right:724.00px;text-align:right;top:659.50px;font-size:12.7px;line-height:15px;color:#737373;font-weight:700;">Zurückgestellte</div>
<div class="t" style="right:724.00px;text-align:right;top:677.50px;font-size:12.7px;line-height:15px;color:#737373;font-weight:700;">Ausgaben | FLC</div>
<div class="t" style="right:602.00px;text-align:right;top:659.50px;font-size:12.7px;line-height:15px;color:#737373;font-weight:700;">FLC-zertifizierte</div>
<div class="t" style="right:602.00px;text-align:right;top:677.50px;font-size:12.7px;line-height:15px;color:#737373;font-weight:700;">Ausgaben</div>
<div class="t" style="right:472.00px;text-align:right;top:659.50px;font-size:12.7px;line-height:15px;color:#737373;font-weight:700;">Projektberichte</div>
<div class="t" style="right:472.00px;text-align:right;top:677.50px;font-size:12.7px;line-height:15px;color:#737373;font-weight:700;">eingereicht</div>
<div class="t" style="right:350.00px;text-align:right;top:659.50px;font-size:12.7px;line-height:15px;color:#737373;font-weight:700;">Kürzungen GS</div>
<div class="t" style="right:350.00px;text-align:right;top:677.50px;font-size:12.7px;line-height:15px;color:#737373;font-weight:700;">Prüfung</div>
<div class="t" style="right:229.00px;text-align:right;top:659.50px;font-size:12.7px;line-height:15px;color:#737373;font-weight:700;">Zurückgestellte</div>
<div class="t" style="right:229.00px;text-align:right;top:677.50px;font-size:12.7px;line-height:15px;color:#737373;font-weight:700;">Ausgaben | GS</div>
<div class="t" style="right:107.00px;text-align:right;top:659.50px;font-size:12.7px;line-height:15px;color:#737373;font-weight:700;">Ausgaben nach GS</div>
<div class="t" style="right:107.00px;text-align:right;top:677.50px;font-size:12.7px;line-height:15px;color:#737373;font-weight:700;">Prüfung</div>
<div class="t" style="right:-4.00px;text-align:right;top:659.50px;font-size:12.7px;line-height:15px;color:#737373;font-weight:700;">Zahlungen an</div>
<div class="t" style="right:-4.00px;text-align:right;top:677.50px;font-size:12.7px;line-height:15px;color:#737373;font-weight:700;">LP</div>
<div class="t" style="right:845.00px;text-align:right;top:668.50px;font-size:12.7px;line-height:15px;color:#737373;font-weight:700;">Kürzungen FLC</div>
<div class="t" style="left:320.00px;top:715.50px;font-size:13.02px;line-height:16px;color:#222;font-weight:400;">KK1 Personalkosten</div>
<div class="t" style="right:1219.00px;text-align:right;top:716.00px;font-size:12.8px;line-height:15px;color:#222;font-weight:400;">360.000,00</div>
<div class="t" style="right:1089.00px;text-align:right;top:716.00px;font-size:12.8px;line-height:15px;color:#222;font-weight:400;">10.658,35</div>
<div class="t" style="right:967.00px;text-align:right;top:716.00px;font-size:12.8px;line-height:15px;color:#222;font-weight:400;">0,00</div>
<div class="t" style="right:845.00px;text-align:right;top:716.00px;font-size:12.8px;line-height:15px;color:#222;font-weight:400;">10,01</div>
<div class="t" style="right:724.00px;text-align:right;top:716.00px;font-size:12.8px;line-height:15px;color:#222;font-weight:400;">3.356,59</div>
<div class="t" style="right:602.00px;text-align:right;top:716.00px;font-size:12.8px;line-height:15px;color:#222;font-weight:400;">7.291,75</div>
<div class="t" style="right:472.00px;text-align:right;top:716.00px;font-size:12.8px;line-height:15px;color:#222;font-weight:400;">6.703,31</div>
<div class="t" style="right:350.00px;text-align:right;top:716.00px;font-size:12.8px;line-height:15px;color:#222;font-weight:400;">0,00</div>
<div class="t" style="right:229.00px;text-align:right;top:716.00px;font-size:12.8px;line-height:15px;color:#222;font-weight:400;">0,00</div>
<div class="t" style="right:107.00px;text-align:right;top:716.00px;font-size:12.8px;line-height:15px;color:#222;font-weight:400;">0,00</div>
<div class="t" style="left:320.00px;top:758.50px;font-size:13.02px;line-height:16px;color:#222;font-weight:400;">KK2 Büro- und Verwaltungskosten</div>
<div class="t" style="right:1219.00px;text-align:right;top:759.00px;font-size:12.8px;line-height:15px;color:#222;font-weight:400;">6.000,00</div>
<div class="t" style="right:1089.00px;text-align:right;top:759.00px;font-size:12.8px;line-height:15px;color:#222;font-weight:400;">165,83</div>
<div class="t" style="right:967.00px;text-align:right;top:759.00px;font-size:12.8px;line-height:15px;color:#222;font-weight:400;">0,00</div>
<div class="t" style="right:845.00px;text-align:right;top:759.00px;font-size:12.8px;line-height:15px;color:#222;font-weight:400;">1,01</div>
<div class="t" style="right:724.00px;text-align:right;top:759.00px;font-size:12.8px;line-height:15px;color:#222;font-weight:400;">35,65</div>
<div class="t" style="right:602.00px;text-align:right;top:759.00px;font-size:12.8px;line-height:15px;color:#222;font-weight:400;">129,17</div>
<div class="t" style="right:472.00px;text-align:right;top:759.00px;font-size:12.8px;line-height:15px;color:#222;font-weight:400;">70,33</div>
<div class="t" style="right:350.00px;text-align:right;top:759.00px;font-size:12.8px;line-height:15px;color:#222;font-weight:400;">0,00</div>
<div class="t" style="right:229.00px;text-align:right;top:759.00px;font-size:12.8px;line-height:15px;color:#222;font-weight:400;">0,00</div>
<div class="t" style="right:107.00px;text-align:right;top:759.00px;font-size:12.8px;line-height:15px;color:#222;font-weight:400;">0,00</div>
<div class="t" style="left:320.00px;top:792.50px;font-size:13.05px;line-height:16px;color:#222;font-weight:400;">KK3 Reise- und</div>
<div class="t" style="left:320.00px;top:810.50px;font-size:13.05px;line-height:16px;color:#222;font-weight:400;">Unterbringungskosten</div>
<div class="t" style="right:1219.00px;text-align:right;top:803.00px;font-size:12.8px;line-height:15px;color:#222;font-weight:400;">3.600,00</div>
<div class="t" style="right:1089.00px;text-align:right;top:803.00px;font-size:12.8px;line-height:15px;color:#222;font-weight:400;">99,49</div>
<div class="t" style="right:967.00px;text-align:right;top:803.00px;font-size:12.8px;line-height:15px;color:#222;font-weight:400;">0,00</div>
<div class="t" style="right:845.00px;text-align:right;top:803.00px;font-size:12.8px;line-height:15px;color:#222;font-weight:400;">0,60</div>
<div class="t" style="right:724.00px;text-align:right;top:803.00px;font-size:12.8px;line-height:15px;color:#222;font-weight:400;">21,40</div>
<div class="t" style="right:602.00px;text-align:right;top:803.00px;font-size:12.8px;line-height:15px;color:#222;font-weight:400;">77,49</div>
<div class="t" style="right:472.00px;text-align:right;top:803.00px;font-size:12.8px;line-height:15px;color:#222;font-weight:400;">42,19</div>
<div class="t" style="right:350.00px;text-align:right;top:803.00px;font-size:12.8px;line-height:15px;color:#222;font-weight:400;">0,00</div>
<div class="t" style="right:229.00px;text-align:right;top:803.00px;font-size:12.8px;line-height:15px;color:#222;font-weight:400;">0,00</div>
<div class="t" style="right:107.00px;text-align:right;top:803.00px;font-size:12.8px;line-height:15px;color:#222;font-weight:400;">0,00</div>
<div class="t" style="left:320.00px;top:835.50px;font-size:13.05px;line-height:16px;color:#222;font-weight:400;">KK4 Kosten für externe Expertise</div>
<div class="t" style="left:320.00px;top:854.50px;font-size:13.05px;line-height:16px;color:#222;font-weight:400;">und Dienstleistungen</div>
<div class="t" style="right:1219.00px;text-align:right;top:846.00px;font-size:12.8px;line-height:15px;color:#222;font-weight:400;">100.000,00</div>
<div class="t" style="right:1089.00px;text-align:right;top:846.00px;font-size:12.8px;line-height:15px;color:#222;font-weight:400;">4.762,86</div>
<div class="t" style="right:967.00px;text-align:right;top:846.00px;font-size:12.8px;line-height:15px;color:#222;font-weight:400;">0,00</div>
<div class="t" style="right:845.00px;text-align:right;top:846.00px;font-size:12.8px;line-height:15px;color:#222;font-weight:400;">100,00</div>
<div class="t" style="right:724.00px;text-align:right;top:846.00px;font-size:12.8px;line-height:15px;color:#222;font-weight:400;">1.172,20</div>
<div class="t" style="right:602.00px;text-align:right;top:846.00px;font-size:12.8px;line-height:15px;color:#222;font-weight:400;">3.490,66</div>
<div class="t" style="right:472.00px;text-align:right;top:846.00px;font-size:12.8px;line-height:15px;color:#222;font-weight:400;">0,00</div>
<div class="t" style="right:350.00px;text-align:right;top:846.00px;font-size:12.8px;line-height:15px;color:#222;font-weight:400;">0,00</div>
<div class="t" style="right:229.00px;text-align:right;top:846.00px;font-size:12.8px;line-height:15px;color:#222;font-weight:400;">0,00</div>
<div class="t" style="right:107.00px;text-align:right;top:846.00px;font-size:12.8px;line-height:15px;color:#222;font-weight:400;">0,00</div>
<div class="t" style="left:320.00px;top:888.50px;font-size:13.02px;line-height:16px;color:#222;font-weight:400;"></div>
</div>
<div class="r" style="left:1862px;top:597px;width:1px;height:299px;background:#d6dee3;"></div>
<div class="r" style="left:1862.5px;top:835.5px;width:40px;height:39.5px;background:#cfd6dc;border-radius:50%"></div>
<div class="r" style="left:1862px;top:830px;width:1px;height:48px;background:#d6dee3;"></div>
</body></html>
